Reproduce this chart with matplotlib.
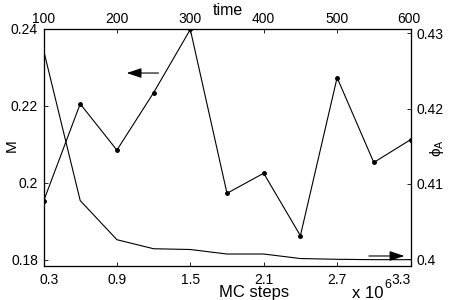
import matplotlib
matplotlib.use("Agg")
import matplotlib.pyplot as plt
from matplotlib.transforms import ScaledTranslation

plt.rcParams["font.family"] = ["Liberation Sans", "DejaVu Sans"]
plt.rcParams["mathtext.fontset"] = "custom"
plt.rcParams["mathtext.rm"] = "Liberation Sans"
plt.rcParams["mathtext.it"] = "Liberation Sans"

# data
mc_steps = [0.3, 0.6, 0.9, 1.2, 1.5, 1.8, 2.1, 2.4, 2.7, 3.0, 3.3]
m_values = [0.1952, 0.2205, 0.2085, 0.2234, 0.2398, 0.1973, 0.2025, 0.1863,
            0.2273, 0.2053, 0.2112]
phi_values = [0.4278, 0.4078, 0.4026, 0.4014, 0.4013, 0.4007, 0.4007, 0.4001,
              0.4000, 0.39995, 0.39995]
bottom_ticks = [0.3, 0.9, 1.5, 2.1, 2.7, 3.3]
time_ticks = [100, 200, 300, 400, 500, 600]
m_ticks = [0.18, 0.2, 0.22, 0.24]
m_ticklabels = ["0.18", "0.2", "0.22", "0.24"]
phi_ticks = [0.40, 0.41, 0.42, 0.43]
phi_ticklabels = ["0.4", "0.41", "0.42", "0.43"]

W, H = 463, 300
fig = plt.figure(figsize=(W / 100, H / 100), dpi=100)
ax = fig.add_axes([43.5 / W, 1 - 266 / H, (410.5 - 43.5) / W, (266 - 28.7) / H])
ax2 = ax.twinx()
ax3 = ax.twiny()

fs = 10
lfs = 12
lw = 0.8

# M series with dots, left axis
ax.plot(mc_steps, m_values, color="black", lw=lw, marker="o", ms=2.5)
ax.set_xlim(0.3, 3.3)
ax.set_ylim(0.17844, 0.24)
ax.set_xticks(bottom_ticks)
ax.set_xticklabels([str(t) for t in bottom_ticks])
ax.set_yticks(m_ticks)
ax.set_yticklabels(m_ticklabels)

# phi_A series, right axis
ax2.plot(mc_steps, phi_values, color="black", lw=lw)
ax2.set_ylim(0.39911, 0.43061)
ax2.set_yticks(phi_ticks)
ax2.set_yticklabels(phi_ticklabels)

# top time axis
ax3.set_xlim(100, 600)
ax3.set_xticks(time_ticks)

for a in (ax, ax2, ax3):
    a.tick_params(direction="in", length=3, width=0.6, labelsize=fs, pad=4)
    for s in a.spines.values():
        s.set_linewidth(0.8)
ax.tick_params(axis="x", pad=5)
ax3.tick_params(axis="x", pad=2)


# end labels pulled inside the axes box, as in the reference
def shift(label, dx, dy):
    label.set_transform(label.get_transform()
                        + ScaledTranslation(dx / 100, dy / 100, fig.dpi_scale_trans))


xl = ax.get_xticklabels()
shift(xl[0], 5.5, 0)
shift(xl[-1], -9, 0)
xt = ax3.get_xticklabels()
shift(xt[-1], -2, 0)

# arrows pointing to the axes
ax.annotate("", xy=(0.98, 0.2285), xytext=(1.24, 0.2285),
            arrowprops=dict(arrowstyle="-|>,head_length=0.9,head_width=0.3",
                            color="black", lw=0.8, shrinkA=0, shrinkB=0))
ax2.annotate("", xy=(3.25, 0.40044), xytext=(2.96, 0.40044),
             arrowprops=dict(arrowstyle="-|>,head_length=0.9,head_width=0.3",
                             color="black", lw=0.8, shrinkA=0, shrinkB=0))

# labels
fig.text(219 / W, 1 - 297.5 / H, "MC steps", ha="left", va="baseline", fontsize=lfs)
fig.text(213 / W, 1 - 15 / H, "time", ha="left", va="baseline", fontsize=11.5)
fig.text(351.5 / W, 1 - 298.5 / H, "x 10", ha="left", va="baseline", fontsize=lfs)
fig.text(384.5 / W, 1 - 284.5 / H, "6", ha="left", va="center", fontsize=9)
fig.text(12 / W, 1 - 146 / H, "M", ha="center", va="center", rotation=90, fontsize=11)
fig.text(437 / W, 1 - 148 / H, r"$\phi_{\rm A}$", ha="center", va="center",
         rotation=90, fontsize=11)

fig.savefig("out.png", dpi=100)
